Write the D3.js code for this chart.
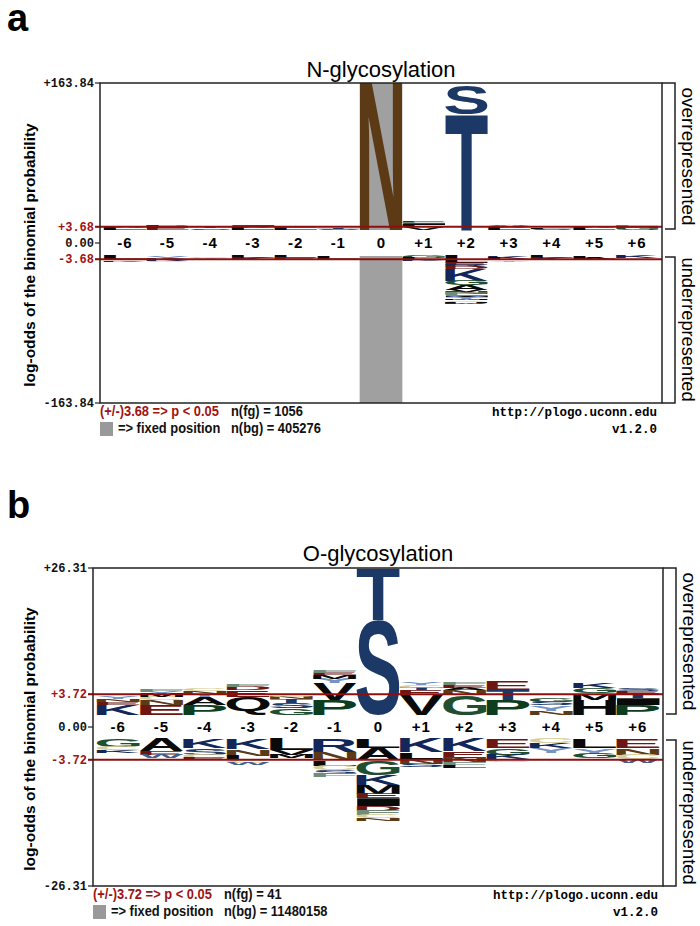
<!DOCTYPE html>
<html>
<head>
<meta charset="utf-8">
<script src="https://cdn.jsdelivr.net/npm/d3@7"></script>
<style>
  body { margin: 0; background: #fff; }
  svg { display: block; }
</style>
</head>
<body>
<svg id="chart" width="700" height="926"></svg>
<script>
// Positions around the modified residue
const positions = ['-6', '-5', '-4', '-3', '-2', '-1', '0', '+1', '+2', '+3', '+4', '+5', '+6'];

// N-glycosylation: [residue, log-odds], listed from the axis outward
const nglycOver = [
    [['L', 2.2], ['A', 1.6], ['G', 1.2]],
    [['E', 2.5], ['L', 2.0], ['P', 1.5]],
    [['S', 1.8], ['T', 1.2]],
    [['L', 2.4], ['V', 1.8], ['I', 1.0]],
    [['L', 2.2], ['E', 1.6], ['A', 1.2]],
    [['S', 1.6], ['T', 1.4]],
    [['N', 163.84]],
    [['V', 3.0], ['L', 2.5], ['I', 2.0], ['F', 1.5], ['E', 1.2]],
    [['T', 129.0], ['S', 32.0]],
    [['L', 2.3], ['V', 1.8], ['A', 1.2]],
    [['S', 1.5], ['L', 1.3]],
    [['L', 2.0], ['A', 1.5], ['V', 1.0]],
    [['G', 2.2], ['N', 1.8], ['F', 1.5]]
];
const nglycUnder = [
    [['L', 3.5], ['C', 1.5], ['K', 1.5]],
    [['Y', 3.0], ['K', 2.5], ['C', 1.0]],
    [['C', 2.0], ['Y', 1.5], ['N', 1.0]],
    [['L', 2.5], ['K', 2.0]],
    [['L', 2.5], ['E', 2.0]],
    [['L', 3.0], ['M', 1.5]],
    [],
    [['G', 2.5], ['L', 2.0], ['K', 1.5]],
    [['L', 8.0], ['E', 2.5], ['R', 2.0], ['D', 2.0], ['K', 13.0], ['G', 5.0], ['A', 5.0], ['V', 2.5],
     ['N', 2.0], ['F', 2.0], ['I', 2.0], ['Y', 2.0], ['M', 1.5], ['C', 1.5], ['H', 1.0], ['W', 1.0], ['P', 1.0]],
    [['K', 3.0], ['L', 2.0], ['Y', 1.2]],
    [['L', 2.5], ['K', 2.5]],
    [['L', 3.0], ['A', 2.0]],
    [['K', 2.5], ['W', 1.5]]
];

// O-glycosylation
const oglycOver = [
    [['K', 1.8], ['E', 0.5], ['N', 0.5], ['Y', 0.4]],
    [['E', 1.8], ['N', 0.8], ['C', 0.6], ['M', 0.6], ['Y', 0.4], ['F', 0.4]],
    [['P', 1.8], ['A', 1.4], ['Y', 0.6], ['N', 0.5], ['C', 0.5]],
    [['Q', 3.2], ['E', 1.2], ['D', 0.6], ['F', 0.4]],
    [['G', 1.2], ['S', 1.0], ['T', 0.7], ['N', 0.4], ['C', 0.3]],
    [['P', 2.7], ['V', 3.0], ['Y', 0.8], ['M', 0.7], ['E', 0.4], ['F', 0.4]],
    [['S', 17.0], ['T', 9.2]],
    [['V', 3.6], ['E', 0.9], ['T', 0.4], ['C', 0.4], ['Y', 0.4]],
    [['G', 3.6], ['N', 0.8], ['A', 0.5], ['E', 0.4], ['F', 0.4]],
    [['P', 2.7], ['T', 1.8], ['E', 1.5]],
    [['N', 0.7], ['Y', 1.0], ['S', 0.6], ['G', 0.6]],
    [['H', 2.7], ['M', 1.2], ['G', 0.9], ['K', 0.9]],
    [['P', 1.8], ['I', 1.2], ['T', 0.8], ['E', 0.5], ['S', 0.5]]
];
const oglycUnder = [
    [['G', 1.4], ['C', 0.6], ['K', 0.5]],
    [['A', 2.2], ['E', 0.6], ['W', 0.6]],
    [['K', 1.6], ['S', 1.2], ['C', 0.6], ['E', 0.4]],
    [['K', 1.8], ['N', 1.2], ['L', 0.8], ['C', 0.5], ['W', 0.4]],
    [['L', 2.0], ['V', 0.8], ['M', 0.6]],
    [['R', 2.4], ['N', 1.4], ['L', 1.0], ['C', 0.8], ['S', 0.6], ['F', 0.6]],
    [['L', 1.6], ['A', 2.2], ['G', 2.6], ['K', 1.8], ['M', 1.6], ['E', 0.8], ['I', 1.4], ['D', 0.8],
     ['F', 0.8], ['C', 0.6], ['N', 0.5]],
    [['K', 2.4], ['L', 1.2], ['N', 0.8], ['S', 0.6]],
    [['K', 2.2], ['E', 1.2], ['N', 0.8], ['F', 0.6], ['L', 0.4]],
    [['E', 1.6], ['G', 1.2], ['K', 0.8], ['C', 0.5]],
    [['C', 0.8], ['K', 0.9], ['Y', 0.8]],
    [['L', 1.6], ['Y', 1.0], ['G', 0.8]],
    [['E', 1.6], ['N', 1.2], ['C', 0.8], ['W', 0.7]]
];

const residueColors = {
    A: '#0a0a0a', V: '#0a0a0a', L: '#0a0a0a', I: '#0a0a0a', M: '#0a0a0a', H: '#0a0a0a', Q: '#0a0a0a',
    W: '#3e5f8f', F: '#6f8d7a', P: '#0c3d1e', G: '#1f4f30', S: '#1c3867', T: '#1c3867',
    C: '#d6cd98', Y: '#7394c4', N: '#5c3a16', D: '#6e1612', E: '#6e1612', K: '#13275a', R: '#13275a'
};

const svg = d3.select('#chart');
const glyphFamily = '"Liberation Sans", Arial, sans-serif';
const monoFamily = '"Liberation Mono", "Courier New", monospace';
const darkRed = '#a01212';

// measure the ink box of each glyph once, on a canvas
const canvas = document.createElement('canvas');
canvas.width = 400;
canvas.height = 400;
const ctx = canvas.getContext('2d', { willReadFrequently: true });
const inkCache = {};

function inkBox(ch) {
    if (inkCache[ch]) return inkCache[ch];
    ctx.clearRect(0, 0, 400, 400);
    ctx.font = `bold 200px ${glyphFamily}`;
    ctx.textBaseline = 'alphabetic';
    ctx.fillStyle = '#000';
    ctx.fillText(ch, 100, 300);
    const data = ctx.getImageData(0, 0, 400, 400).data;
    let x0 = 400, x1 = 0, y0 = 400, y1 = 0;
    for (let y = 0; y < 400; y++) {
        for (let x = 0; x < 400; x++) {
            if (data[(y * 400 + x) * 4 + 3] > 100) {
                if (x < x0) x0 = x;
                if (x > x1) x1 = x;
                if (y < y0) y0 = y;
                if (y > y1) y1 = y;
            }
        }
    }
    inkCache[ch] = { x: x0 - 100, y: y0 - 300, w: x1 - x0 + 1, h: y1 - y0 + 1 };
    return inkCache[ch];
}

function drawGlyph(parent, ch, x0, y0, w, h) {
    if (h < 0.3) return;
    const ink = inkBox(ch);
    parent.append('text')
        .text(ch)
        .attr('font-family', glyphFamily)
        .attr('font-weight', 'bold')
        .attr('font-size', 200)
        .attr('fill', residueColors[ch])
        .attr('transform', `translate(${x0},${y0}) scale(${w / ink.w},${h / ink.h}) translate(${-ink.x},${-ink.y})`);
}

// squeeze a text horizontally, to imitate a condensed face
function squeeze(sel, factor) {
    const len = sel.node().getComputedTextLength();
    sel.attr('textLength', len * factor).attr('lengthAdjust', 'spacingAndGlyphs');
    return sel;
}

function legendText(g, x, y, t, color) {
    const sel = g.append('text')
        .attr('x', x).attr('y', y)
        .attr('font-family', glyphFamily).attr('font-weight', 'bold').attr('font-size', 14)
        .attr('fill', color || '#111')
        .text(t);
    return squeeze(sel, 0.92);
}

function drawPanel(cfg) {
    const g = svg.append('g');
    const upBase = cfg.top + cfg.half;
    const loBase = upBase + cfg.band;
    const bottom = loBase + cfg.half;
    const mid = (upBase + loBase) / 2;

    const x = d3.scaleBand()
        .domain(positions)
        .range([cfg.left + 3.5, cfg.right - 3.5])
        .paddingInner(0);
    const yOver = d3.scaleLinear().domain([0, cfg.max]).range([upBase, cfg.top]);
    const yUnder = d3.scaleLinear().domain([0, cfg.max]).range([loBase, bottom]);

    // panel letter and title
    g.append('text')
        .attr('x', 7).attr('y', cfg.labelY)
        .attr('font-family', glyphFamily).attr('font-weight', 'bold').attr('font-size', 38)
        .text(cfg.label);
    g.append('text')
        .attr('x', (cfg.left + cfg.right) / 2).attr('y', cfg.titleY)
        .attr('text-anchor', 'middle')
        .attr('font-family', glyphFamily).attr('font-size', 22)
        .text(cfg.title);

    // fixed position column
    if (cfg.fixed) {
        const fx = x(cfg.fixed);
        g.append('rect').attr('x', fx).attr('y', cfg.top).attr('width', x.bandwidth()).attr('height', upBase - cfg.top).attr('fill', '#a0a0a0');
        g.append('rect').attr('x', fx).attr('y', loBase).attr('width', x.bandwidth()).attr('height', bottom - loBase).attr('fill', '#a0a0a0');
    }

    const letters = g.append('g');
    const w = x.bandwidth() - 0.6;
    positions.forEach((p, i) => {
        let cum = 0;
        cfg.over[i].forEach(([aa, v]) => {
            const yTop = yOver(cum + v);
            drawGlyph(letters, aa, x(p) + 0.3, yTop, w, yOver(cum) - yTop);
            cum += v;
        });
        cum = 0;
        cfg.under[i].forEach(([aa, v]) => {
            const yT = yUnder(cum);
            drawGlyph(letters, aa, x(p) + 0.3, yT, w, yUnder(cum + v) - yT);
            cum += v;
        });
    });

    // significance lines
    [yOver(cfg.sig), yUnder(cfg.sig)].forEach(yy => {
        g.append('line')
            .attr('x1', cfg.left - 5).attr('x2', cfg.right)
            .attr('y1', yy).attr('y2', yy)
            .attr('stroke', '#8e0f0f').attr('stroke-width', 2);
    });

    // label band
    g.append('g').selectAll('text')
        .data(positions)
        .enter()
        .append('text')
        .attr('x', d => x(d) + x.bandwidth() / 2)
        .attr('y', mid + 5.3)
        .attr('text-anchor', 'middle')
        .attr('font-family', glyphFamily).attr('font-weight', 'bold').attr('font-size', 15)
        .attr('letter-spacing', d => d.length > 1 ? 1 : 0)
        .text(d => d);

    // frame
    g.append('rect')
        .attr('x', cfg.left).attr('y', cfg.top)
        .attr('width', cfg.right - cfg.left).attr('height', bottom - cfg.top)
        .attr('fill', 'none').attr('stroke', '#222').attr('stroke-width', 1.5);

    // y ticks
    const ticks = [
        { y: cfg.top, t: '+' + cfg.max.toFixed(2), c: '#111' },
        { y: yOver(cfg.sig), t: '+' + cfg.sig.toFixed(2), c: darkRed },
        { y: mid, t: '0.00', c: '#111' },
        { y: yUnder(cfg.sig), t: '-' + cfg.sig.toFixed(2), c: darkRed },
        { y: bottom, t: '-' + cfg.max.toFixed(2), c: '#111' }
    ];
    ticks.forEach(d => {
        g.append('line')
            .attr('x1', cfg.left - 5).attr('x2', cfg.left)
            .attr('y1', d.y).attr('y2', d.y)
            .attr('stroke', d.c === darkRed ? '#8e0f0f' : '#222').attr('stroke-width', 1.2);
        g.append('text')
            .attr('x', cfg.left - 6).attr('y', d.y + 4)
            .attr('text-anchor', 'end')
            .attr('font-family', monoFamily).attr('font-weight', 'bold').attr('font-size', 12)
            .attr('fill', d.c)
            .text(d.t);
    });

    // y axis title
    g.append('text')
        .attr('transform', `translate(35,${(cfg.top + bottom) / 2 + 12}) rotate(-90)`)
        .attr('text-anchor', 'middle')
        .attr('font-family', glyphFamily).attr('font-weight', 'bold').attr('font-size', 15.5)
        .text('log-odds of the binomial probability');

    // right brackets
    const bx = cfg.right + 13;
    g.append('path')
        .attr('d', `M${cfg.right},${cfg.top}H${bx}V${upBase - 1}H${cfg.right + 3}`)
        .attr('fill', 'none').attr('stroke', '#222').attr('stroke-width', 1.5);
    g.append('path')
        .attr('d', `M${cfg.right + 3},${loBase + 1}H${bx}V${bottom}H${cfg.right}`)
        .attr('fill', 'none').attr('stroke', '#222').attr('stroke-width', 1.5);
    [['overrepresented', (cfg.top + upBase) / 2, 0.94], ['underrepresented', (loBase + bottom) / 2, 0.98]].forEach(([t, yc, f]) => {
        g.append('text')
            .attr('transform', `translate(${bx + 7},${yc}) rotate(90)`)
            .attr('text-anchor', 'middle')
            .attr('font-family', glyphFamily).attr('font-size', 18.5)
            .attr('textLength', cfg.half * f)
            .attr('lengthAdjust', 'spacingAndGlyphs')
            .text(t);
    });

    // legend
    const l1 = bottom + 12.5, l2 = bottom + 30;
    legendText(g, cfg.left, l1, `(+/-)${cfg.sig.toFixed(2)} => p < 0.05`, darkRed);
    legendText(g, cfg.left + 131, l1, `n(fg) = ${cfg.nfg}`);
    g.append('rect')
        .attr('x', cfg.left).attr('y', bottom + 19)
        .attr('width', 13).attr('height', 14)
        .attr('fill', '#999');
    legendText(g, cfg.left + 18, l2, '=> fixed position');
    legendText(g, cfg.left + 131, l2, `n(bg) = ${cfg.nbg}`);
    g.append('text')
        .attr('x', cfg.right - 5).attr('y', l1)
        .attr('text-anchor', 'end')
        .attr('font-family', monoFamily).attr('font-weight', 'bold').attr('font-size', 12.5)
        .text('http://plogo.uconn.edu');
    g.append('text')
        .attr('x', cfg.right - 5).attr('y', l2)
        .attr('text-anchor', 'end')
        .attr('font-family', monoFamily).attr('font-weight', 'bold').attr('font-size', 12.5)
        .text('v1.2.0');
}

drawPanel({
    label: 'a', labelY: 31, title: 'N-glycosylation', titleY: 77,
    left: 100, right: 662, top: 83, half: 147, band: 26,
    max: 163.84, sig: 3.68, fixed: '0', nfg: 1056, nbg: 405276,
    over: nglycOver, under: nglycUnder
});

drawPanel({
    label: 'b', labelY: 518, title: 'O-glycosylation', titleY: 561,
    left: 93, right: 663, top: 568, half: 147, band: 24,
    max: 26.31, sig: 3.72, fixed: null, nfg: 41, nbg: 11480158,
    over: oglycOver, under: oglycUnder
});
</script>
</body>
</html>
